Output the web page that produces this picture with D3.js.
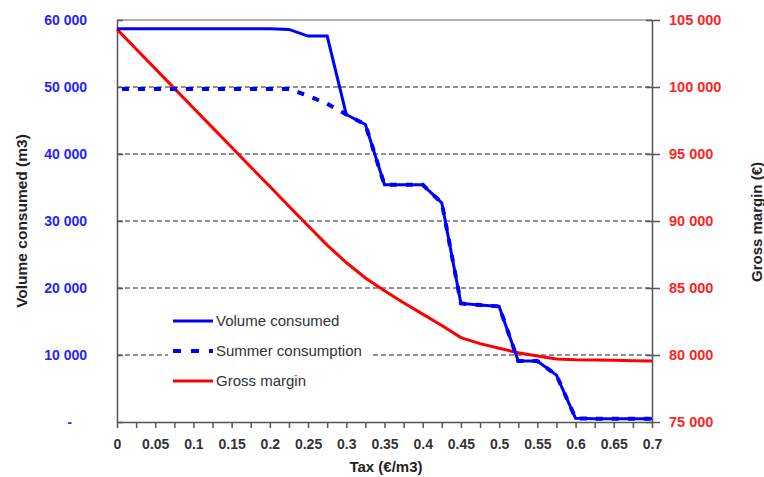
<!DOCTYPE html>
<html>
<head>
<meta charset="utf-8">
<script src="https://cdn.jsdelivr.net/npm/d3@7"></script>
<style>
  body { margin: 0; background: #fff; }
  svg { font-family: "Liberation Sans", Arial, sans-serif; }
</style>
</head>
<body>
<div id="chart"></div>
<script>
// Tax levels (€/m3)
const taxes = [0, 0.025, 0.05, 0.075, 0.1, 0.125, 0.15, 0.175, 0.2, 0.225,
  0.25, 0.275, 0.3, 0.325, 0.35, 0.375, 0.4, 0.425, 0.45, 0.475,
  0.5, 0.525, 0.55, 0.575, 0.6, 0.625, 0.65, 0.675, 0.7];

// Volume consumed (m3)
const volume = [58700, 58700, 58700, 58700, 58700, 58700, 58700, 58700, 58700, 58600,
  57600, 57600, 45900, 44400, 35400, 35400, 35400, 32700, 17700, 17450,
  17250, 9100, 9100, 7000, 550, 500, 500, 500, 500];

// Summer consumption (m3)
const summer = [49700, 49700, 49700, 49700, 49700, 49700, 49700, 49700, 49700, 49700,
  48700, 47500, 45900, 44400, 35400, 35400, 35400, 32700, 17700, 17450,
  17250, 9100, 9100, 7000, 550, 500, 500, 500, 500];

// Gross margin (€)
const margin = [104300, 102830, 101370, 99900, 98430, 96970, 95500, 94030, 92570, 91100,
  89650, 88200, 86900, 85750, 84800, 83900, 83050, 82200, 81300, 80850,
  80500, 80170, 79930, 79700, 79640, 79620, 79600, 79580, 79550];

const xTicks = [0, 0.05, 0.1, 0.15, 0.2, 0.25, 0.3, 0.35, 0.4, 0.45, 0.5, 0.55, 0.6, 0.65, 0.7];
const leftTicks = [0, 10000, 20000, 30000, 40000, 50000, 60000];
const rightTicks = [75000, 80000, 85000, 90000, 95000, 100000, 105000];

const W = 764, H = 477;
const plot = { left: 117, right: 652, top: 20, bottom: 422 };

const x = d3.scaleLinear().domain([0, 0.7]).range([plot.left, plot.right]);
const yL = d3.scaleLinear().domain([0, 60000]).range([plot.bottom, plot.top]);
const yR = d3.scaleLinear().domain([75000, 105000]).range([plot.bottom, plot.top]);

const fmt = d3.formatLocale({ decimal: ".", thousands: " ", grouping: [3], currency: ["", ""] }).format(",");

const svg = d3.select('#chart')
  .append('svg')
  .attr('width', W)
  .attr('height', H);

// horizontal dashed grid lines
svg.append('g')
  .selectAll('line')
  .data(leftTicks.filter(d => d > 0 && d < 60000))
  .enter()
  .append('line')
  .attr('x1', plot.left).attr('x2', plot.right)
  .attr('y1', d => yL(d)).attr('y2', d => yL(d))
  .attr('stroke', '#222')
  .attr('stroke-width', 1)
  .attr('stroke-dasharray', '5,3');

// top border
svg.append('line')
  .attr('x1', plot.left).attr('x2', plot.right)
  .attr('y1', plot.top).attr('y2', plot.top)
  .attr('stroke', '#999').attr('stroke-width', 1.5);

// left axis
const axL = svg.append('g')
  .attr('transform', `translate(${plot.left},0)`)
  .call(d3.axisLeft(yL).tickValues(leftTicks).tickSizeInner(6).tickSizeOuter(0).tickPadding(24)
    .tickFormat(d => d === 0 ? '-' : fmt(d)));
axL.selectAll('.tick line').attr('x2', 6);
axL.selectAll('.tick text').filter(d => d === 0).attr('dx', -15);

// right axis
const axR = svg.append('g')
  .attr('transform', `translate(${plot.right},0)`)
  .call(d3.axisRight(yR).tickValues(rightTicks).tickSizeInner(6).tickSizeOuter(0).tickPadding(11)
    .tickFormat(fmt));
axR.selectAll('.tick line').attr('x2', 8).attr('x1', -6);

// bottom axis: minor ticks every 0.025, labels every 0.05
svg.append('g')
  .attr('transform', `translate(0,${plot.bottom})`)
  .call(d3.axisBottom(x).tickValues(taxes).tickSizeInner(6).tickSizeOuter(0).tickFormat(''))
  .call(g => g.selectAll('text').remove());
const axB = svg.append('g')
  .attr('transform', `translate(0,${plot.bottom})`)
  .call(d3.axisBottom(x).tickValues(xTicks).tickSize(0).tickPadding(17)
    .tickFormat(d => d3.format('')(d)));
axB.select('.domain').remove();

svg.selectAll('.domain, .tick line').attr('stroke', '#555').attr('stroke-width', 1.5);
svg.selectAll('.tick text').style('font-size', '14px').style('font-weight', 'bold')
  .style('font-family', '"Liberation Sans", Arial, sans-serif');
axL.selectAll('text').attr('fill', '#2424ff');
axR.selectAll('text').attr('fill', '#ff2424').style('font-size', '14.5px');
axB.selectAll('text').attr('fill', '#333');

// axis titles
svg.append('text')
  .attr('transform', 'translate(27,221) rotate(-90)')
  .attr('text-anchor', 'middle')
  .style('font-size', '15.5px').style('font-weight', 'bold').attr('fill', '#222')
  .text('Volume consumed (m3)');
svg.append('text')
  .attr('transform', `translate(762,222) rotate(-90)`)
  .attr('text-anchor', 'middle')
  .style('font-size', '15px').style('font-weight', 'bold').attr('fill', '#222')
  .text('Gross margin (€)');
svg.append('text')
  .attr('x', 386).attr('y', 472)
  .attr('text-anchor', 'middle')
  .style('font-size', '15px').style('font-weight', 'bold').attr('fill', '#222')
  .text('Tax (€/m3)');

// series
const lineL = d3.line().x((d, i) => x(taxes[i])).y(d => yL(d));
const lineR = d3.line().x((d, i) => x(taxes[i])).y(d => yR(d));

svg.append('path').datum(margin)
  .attr('d', lineR).attr('fill', 'none')
  .attr('stroke', '#ff0000').attr('stroke-width', 3);

svg.append('path').datum(volume)
  .attr('d', lineL).attr('fill', 'none')
  .attr('stroke', '#0000ff').attr('stroke-width', 3);

svg.append('path').datum(summer)
  .attr('d', lineL).attr('fill', 'none')
  .attr('stroke', '#0000ff').attr('stroke-width', 4)
  .attr('stroke-dasharray', '7,9').attr('stroke-dashoffset', -5);

// legend
const legend = svg.append('g');
legend.append('rect')
  .attr('x', 168).attr('y', 306).attr('width', 204).attr('height', 90)
  .attr('fill', '#fff');
const items = [
  { name: 'Volume consumed', color: '#0000ff', dash: null },
  { name: 'Summer consumption', color: '#0000ff', dash: '8,10' },
  { name: 'Gross margin', color: '#ff0000', dash: null }
];
items.forEach((it, i) => {
  const yy = 321 + i * 30;
  legend.append('line')
    .attr('x1', 173).attr('x2', 213).attr('y1', yy).attr('y2', yy)
    .attr('stroke', it.color).attr('stroke-width', it.dash ? 4 : 3)
    .attr('stroke-dasharray', it.dash);
  legend.append('text')
    .attr('x', 216).attr('y', yy + 5)
    .style('font-size', '15px').attr('fill', '#333')
    .text(it.name);
});
</script>
</body>
</html>
